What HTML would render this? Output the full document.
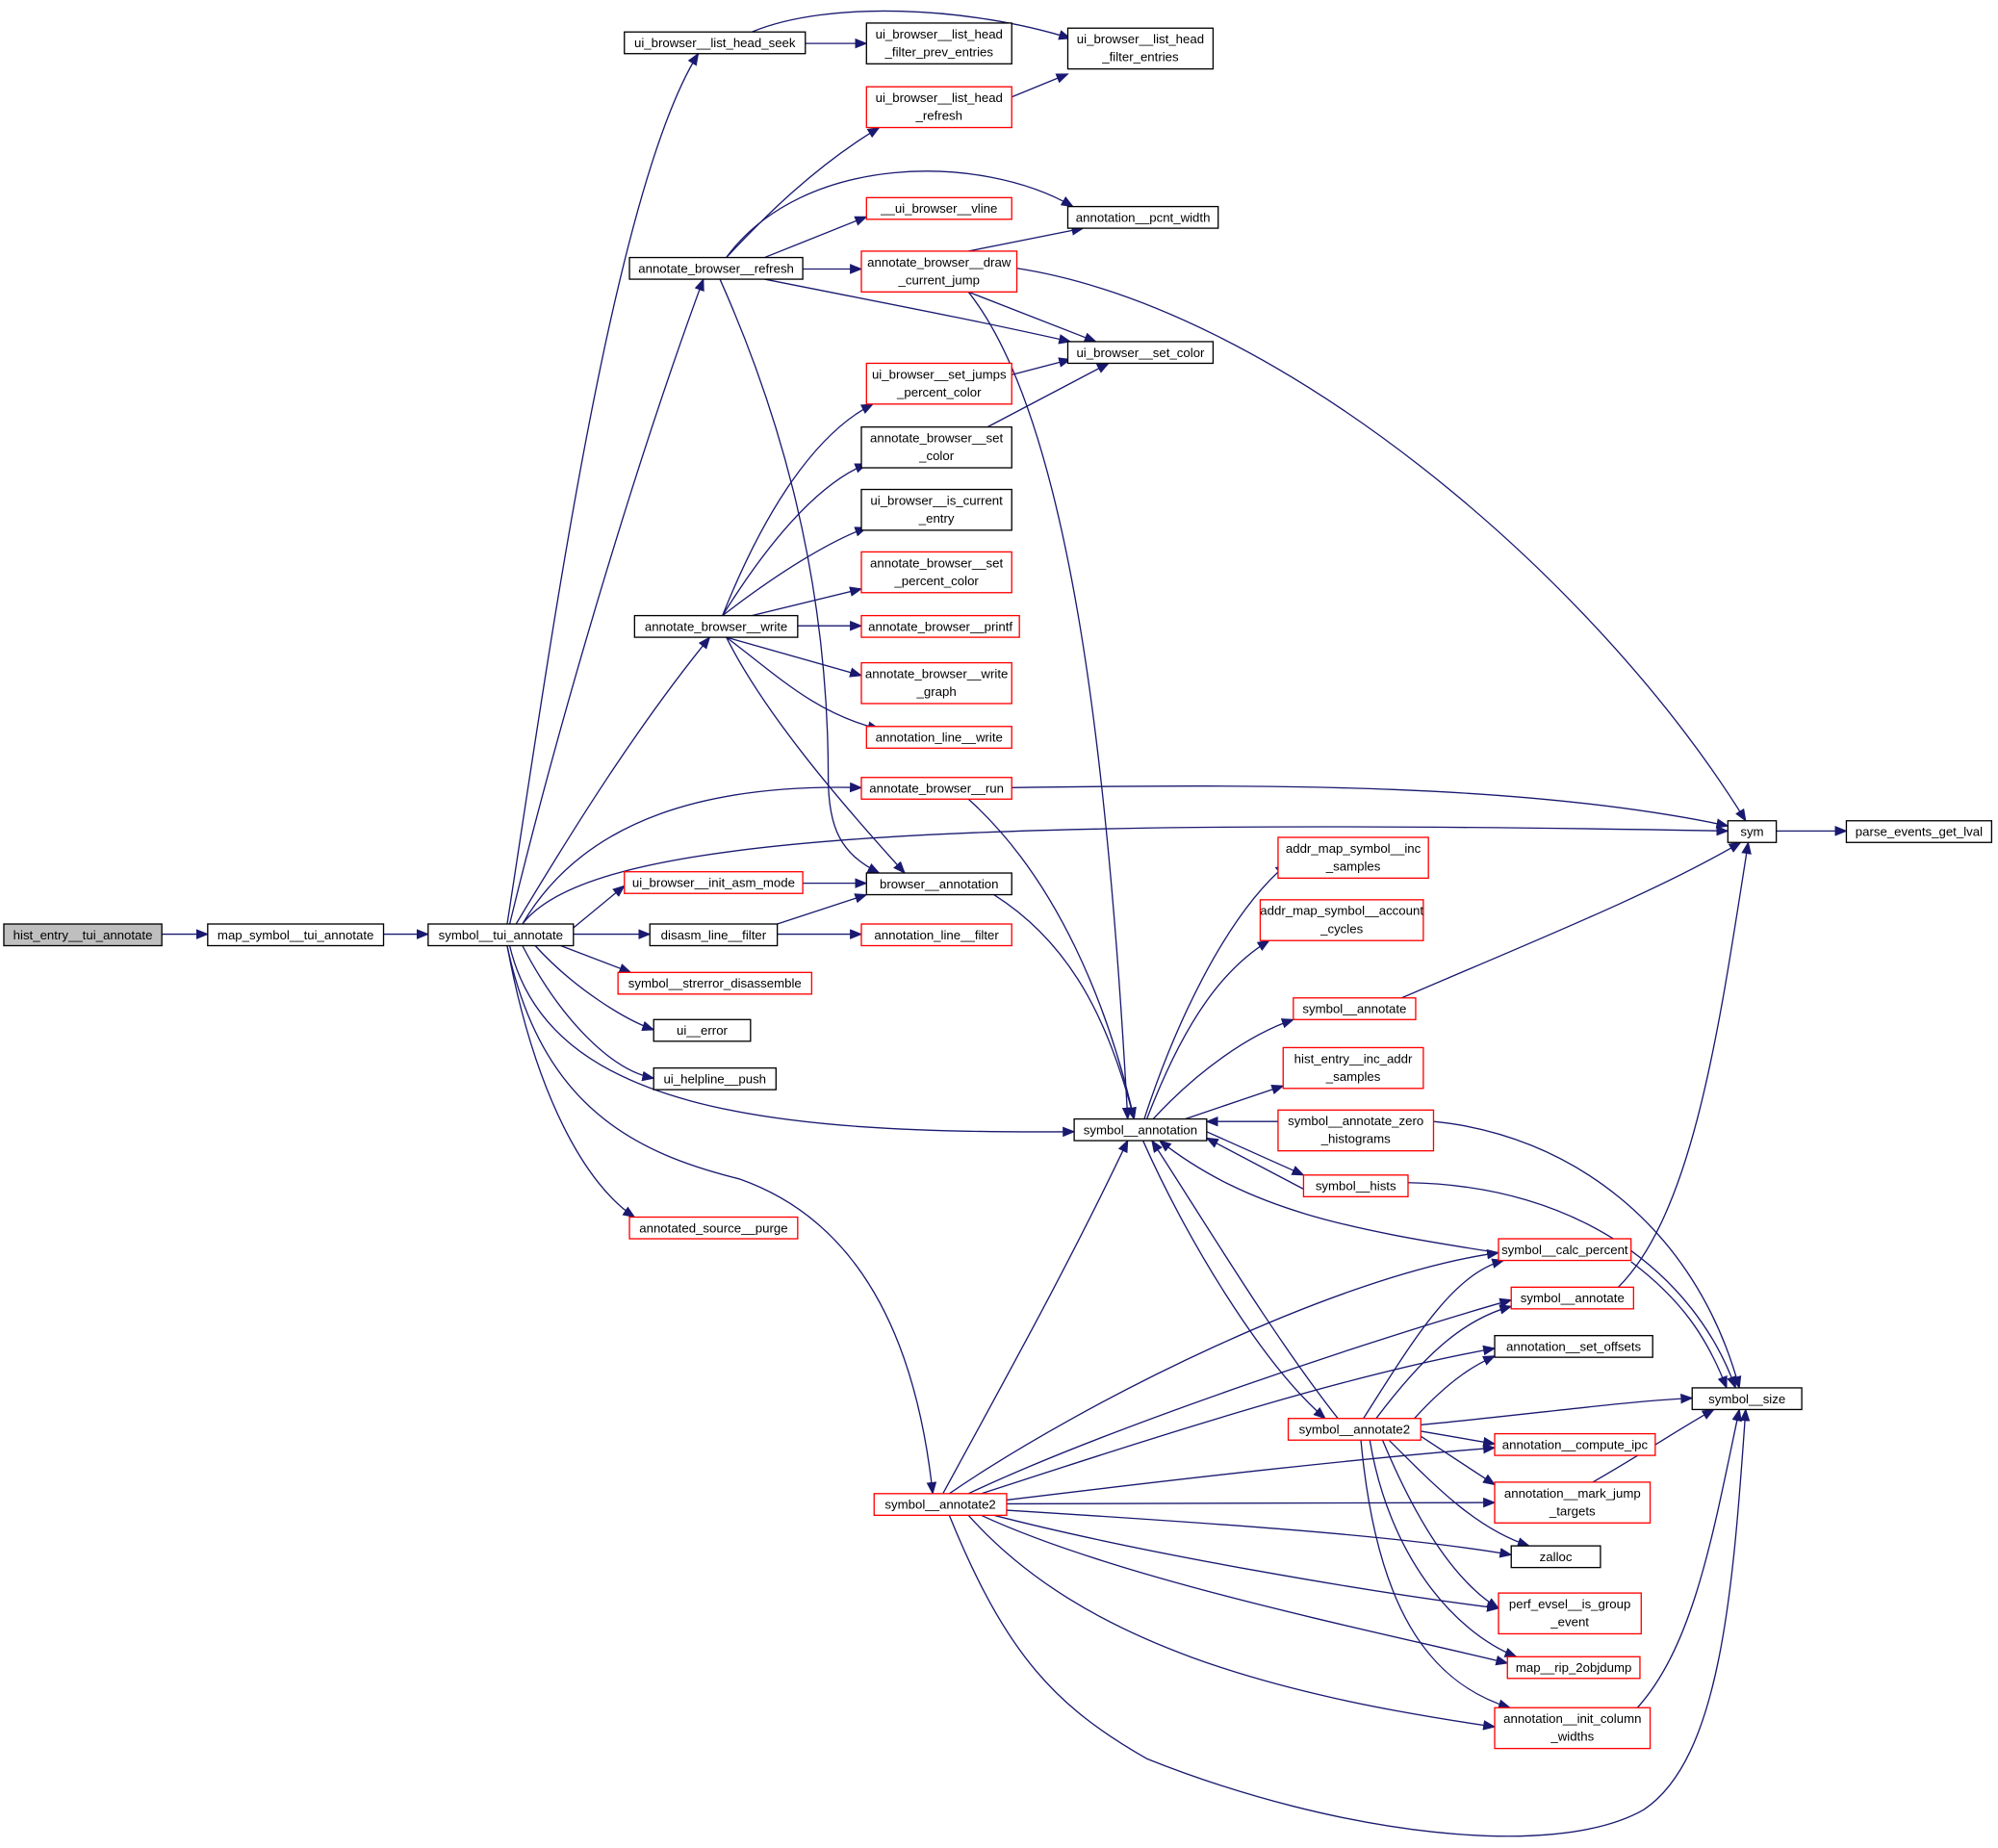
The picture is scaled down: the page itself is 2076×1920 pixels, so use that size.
<!DOCTYPE html>
<html><head><meta charset="utf-8"><style>
html,body{margin:0;padding:0;background:#fff;}
svg{display:block}
text{font-family:"Liberation Sans",sans-serif;font-size:10px;fill:#000;text-anchor:middle}
.n{fill:#fff;stroke:#000;stroke-width:1}
.r{fill:#fff;stroke:#f00;stroke-width:1}
.e{fill:none;stroke:#191970;stroke-width:1}
</style></head><body>
<svg width="2076" height="1920" viewBox="0 0 1568 1450" xmlns="http://www.w3.org/2000/svg">
<defs><marker id="a" markerWidth="10" markerHeight="8" refX="9" refY="4" orient="auto" markerUnits="userSpaceOnUse"><path d="M0,0 L10,4 L0,8 z" fill="#191970"/></marker></defs>
<g marker-end="url(#a)">
<path class="e" d="M127,733 L163,733"/>
<path class="e" d="M301,733 L336,733"/>
<path class="e" d="M398,725 C430,520 480,150 548,42"/>
<path class="e" d="M632,34 L680,34"/>
<path class="e" d="M590,25 C650,0 760,5 840,30"/>
<path class="e" d="M794,76 L838,58"/>
<path class="e" d="M400,725 C440,560 500,360 552,219"/>
<path class="e" d="M570,202 C600,170 640,130 690,100"/>
<path class="e" d="M570,202 C630,120 770,120 842,162"/>
<path class="e" d="M600,202 L680,170"/>
<path class="e" d="M630,211 L676,211"/>
<path class="e" d="M600,219 C680,235 760,250 840,268"/>
<path class="e" d="M565,219 C610,320 650,450 650,610 C650,650 660,670 690,685"/>
<path class="e" d="M760,197 L850,179"/>
<path class="e" d="M760,229 L860,268"/>
<path class="e" d="M795,210 C1000,240 1250,450 1370,644"/>
<path class="e" d="M760,229 C840,330 870,600 885,878"/>
<path class="e" d="M794,294 L840,282"/>
<path class="e" d="M775,335 L870,285"/>
<path class="e" d="M405,725 C450,650 500,570 557,500"/>
<path class="e" d="M567,483 C600,400 640,340 685,317"/>
<path class="e" d="M567,483 C600,430 640,380 680,364"/>
<path class="e" d="M567,483 C610,450 650,425 680,414"/>
<path class="e" d="M590,483 L676,462"/>
<path class="e" d="M626,491 L676,491"/>
<path class="e" d="M570,500 L676,530"/>
<path class="e" d="M570,500 C610,530 640,560 690,572"/>
<path class="e" d="M570,500 C600,560 660,630 710,685"/>
<path class="e" d="M410,725 C460,640 560,615 676,618"/>
<path class="e" d="M794,618 C1000,615 1200,615 1356,648"/>
<path class="e" d="M760,627 C830,690 870,790 890,878"/>
<path class="e" d="M410,725 C460,660 700,640 1356,652"/>
<path class="e" d="M1394,652 L1449,652"/>
<path class="e" d="M450,728 L490,695"/>
<path class="e" d="M630,693 L680,693"/>
<path class="e" d="M450,733 L510,733"/>
<path class="e" d="M610,725 L680,702"/>
<path class="e" d="M610,733 L676,733"/>
<path class="e" d="M440,742 L495,763"/>
<path class="e" d="M420,742 C450,775 490,800 513,808"/>
<path class="e" d="M410,742 C440,800 480,840 513,846"/>
<path class="e" d="M400,742 C430,870 600,890 843,888"/>
<path class="e" d="M398,742 C420,860 460,930 498,955"/>
<path class="e" d="M398,742 C425,870 500,905 580,925 C680,960 720,1060 732,1172"/>
<path class="e" d="M780,702 C840,740 870,800 890,878"/>
<path class="e" d="M898,878 C920,810 960,720 1010,678"/>
<path class="e" d="M900,878 C930,800 960,760 996,738"/>
<path class="e" d="M905,878 C940,840 980,812 1015,800"/>
<path class="e" d="M930,878 L1007,852"/>
<path class="e" d="M1003,880 L947,880"/>
<path class="e" d="M947,888 L1023,922"/>
<path class="e" d="M1023,933 L947,893"/>
<path class="e" d="M1176,983 C1060,965 980,950 910,895"/>
<path class="e" d="M1050,1113 C1000,1050 940,950 904,895"/>
<path class="e" d="M897,895 C930,970 990,1070 1040,1113"/>
<path class="e" d="M1100,783 C1200,740 1300,700 1366,661"/>
<path class="e" d="M1125,880 C1230,890 1330,960 1365,1089"/>
<path class="e" d="M1105,928 C1240,930 1330,1000 1362,1089"/>
<path class="e" d="M1280,990 C1320,1020 1340,1050 1355,1089"/>
<path class="e" d="M1270,1010 C1330,950 1350,800 1372,661"/>
<path class="e" d="M1070,1113 C1110,1050 1140,1000 1180,989"/>
<path class="e" d="M1080,1113 C1120,1060 1150,1035 1186,1025"/>
<path class="e" d="M1110,1113 C1140,1080 1160,1070 1173,1064"/>
<path class="e" d="M1115,1118 C1200,1110 1270,1100 1328,1097"/>
<path class="e" d="M1115,1123 L1173,1133"/>
<path class="e" d="M1115,1127 L1173,1165"/>
<path class="e" d="M1090,1130 C1130,1170 1160,1200 1200,1213"/>
<path class="e" d="M1085,1130 C1110,1190 1140,1240 1176,1262"/>
<path class="e" d="M1075,1130 C1090,1220 1140,1280 1190,1300"/>
<path class="e" d="M1068,1130 C1080,1260 1120,1320 1185,1340"/>
<path class="e" d="M1250,1163 C1290,1140 1320,1120 1345,1106"/>
<path class="e" d="M1285,1340 C1330,1290 1345,1200 1365,1106"/>
<path class="e" d="M740,1172 C790,1080 840,990 885,895"/>
<path class="e" d="M745,1172 C850,1100 1050,1000 1176,983"/>
<path class="e" d="M760,1172 C870,1120 1080,1050 1186,1020"/>
<path class="e" d="M770,1172 C900,1130 1050,1080 1173,1058"/>
<path class="e" d="M790,1177 C930,1160 1060,1145 1173,1136"/>
<path class="e" d="M790,1180 L1173,1179"/>
<path class="e" d="M790,1185 C950,1195 1100,1205 1186,1220"/>
<path class="e" d="M780,1189 C900,1220 1080,1250 1176,1262"/>
<path class="e" d="M770,1189 C880,1240 1080,1280 1183,1305"/>
<path class="e" d="M760,1189 C850,1290 1000,1330 1173,1355"/>
<path class="e" d="M745,1189 C790,1300 830,1340 900,1380 C1050,1440 1220,1460 1290,1420 C1350,1380 1360,1250 1370,1106"/>
</g>
<g>
<rect x="3" y="725" width="124" height="17" fill="#bfbfbf" stroke="#000"/><text x="65" y="737">hist_entry__tui_annotate</text>
<rect class="n" x="163" y="725" width="138" height="17"/><text x="232" y="737">map_symbol__tui_annotate</text>
<rect class="n" x="336" y="725" width="114" height="17"/><text x="393" y="737">symbol__tui_annotate</text>
<rect class="n" x="490" y="25" width="142" height="17"/><text x="561" y="37">ui_browser__list_head_seek</text>
<rect class="n" x="680" y="18" width="114" height="32"/><text x="737" y="30">ui_browser__list_head</text><text x="737" y="44">_filter_prev_entries</text>
<rect class="n" x="838" y="22" width="114" height="32"/><text x="895" y="34">ui_browser__list_head</text><text x="895" y="48">_filter_entries</text>
<rect class="r" x="680" y="68" width="114" height="32"/><text x="737" y="80">ui_browser__list_head</text><text x="737" y="94">_refresh</text>
<rect class="r" x="680" y="155" width="114" height="17"/><text x="737" y="167">__ui_browser__vline</text>
<rect class="n" x="838" y="162" width="118" height="17"/><text x="897" y="174">annotation__pcnt_width</text>
<rect class="n" x="494" y="202" width="136" height="17"/><text x="562" y="214">annotate_browser__refresh</text>
<rect class="r" x="676" y="197" width="122" height="32"/><text x="737" y="209">annotate_browser__draw</text><text x="737" y="223">_current_jump</text>
<rect class="n" x="838" y="268" width="114" height="17"/><text x="895" y="280">ui_browser__set_color</text>
<rect class="r" x="680" y="285" width="114" height="32"/><text x="737" y="297">ui_browser__set_jumps</text><text x="737" y="311">_percent_color</text>
<rect class="n" x="676" y="335" width="118" height="32"/><text x="735" y="347">annotate_browser__set</text><text x="735" y="361">_color</text>
<rect class="n" x="676" y="384" width="118" height="32"/><text x="735" y="396">ui_browser__is_current</text><text x="735" y="410">_entry</text>
<rect class="r" x="676" y="433" width="118" height="32"/><text x="735" y="445">annotate_browser__set</text><text x="735" y="459">_percent_color</text>
<rect class="n" x="498" y="483" width="128" height="17"/><text x="562" y="495">annotate_browser__write</text>
<rect class="r" x="676" y="483" width="124" height="17"/><text x="738" y="495">annotate_browser__printf</text>
<rect class="r" x="676" y="520" width="118" height="32"/><text x="735" y="532">annotate_browser__write</text><text x="735" y="546">_graph</text>
<rect class="r" x="680" y="570" width="114" height="17"/><text x="737" y="582">annotation_line__write</text>
<rect class="r" x="676" y="610" width="118" height="17"/><text x="735" y="622">annotate_browser__run</text>
<rect class="n" x="1356" y="644" width="38" height="17"/><text x="1375" y="656">sym</text>
<rect class="n" x="1449" y="644" width="114" height="17"/><text x="1506" y="656">parse_events_get_lval</text>
<rect class="r" x="490" y="684" width="140" height="17"/><text x="560" y="696">ui_browser__init_asm_mode</text>
<rect class="n" x="680" y="685" width="114" height="17"/><text x="737" y="697">browser__annotation</text>
<rect class="n" x="510" y="725" width="100" height="17"/><text x="560" y="737">disasm_line__filter</text>
<rect class="r" x="676" y="725" width="118" height="17"/><text x="735" y="737">annotation_line__filter</text>
<rect class="r" x="485" y="763" width="152" height="17"/><text x="561" y="775">symbol__strerror_disassemble</text>
<rect class="n" x="513" y="800" width="76" height="17"/><text x="551" y="812">ui__error</text>
<rect class="n" x="513" y="838" width="96" height="17"/><text x="561" y="850">ui_helpline__push</text>
<rect class="r" x="1003" y="657" width="118" height="32"/><text x="1062" y="669">addr_map_symbol__inc</text><text x="1062" y="683">_samples</text>
<rect class="r" x="989" y="706" width="128" height="32"/><text x="1053" y="718">addr_map_symbol__account</text><text x="1053" y="732">_cycles</text>
<rect class="r" x="1015" y="783" width="96" height="17"/><text x="1063" y="795">symbol__annotate</text>
<rect class="r" x="1007" y="822" width="110" height="32"/><text x="1062" y="834">hist_entry__inc_addr</text><text x="1062" y="848">_samples</text>
<rect class="n" x="843" y="878" width="104" height="17"/><text x="895" y="890">symbol__annotation</text>
<rect class="r" x="1003" y="871" width="122" height="32"/><text x="1064" y="883">symbol__annotate_zero</text><text x="1064" y="897">_histograms</text>
<rect class="r" x="1023" y="922" width="82" height="17"/><text x="1064" y="934">symbol__hists</text>
<rect class="r" x="494" y="955" width="132" height="17"/><text x="560" y="967">annotated_source__purge</text>
<rect class="r" x="1176" y="972" width="104" height="17"/><text x="1228" y="984">symbol__calc_percent</text>
<rect class="r" x="1186" y="1010" width="96" height="17"/><text x="1234" y="1022">symbol__annotate</text>
<rect class="n" x="1173" y="1048" width="124" height="17"/><text x="1235" y="1060">annotation__set_offsets</text>
<rect class="n" x="1328" y="1089" width="86" height="17"/><text x="1371" y="1101">symbol__size</text>
<rect class="r" x="1011" y="1113" width="104" height="17"/><text x="1063" y="1125">symbol__annotate2</text>
<rect class="r" x="1173" y="1125" width="126" height="17"/><text x="1236" y="1137">annotation__compute_ipc</text>
<rect class="r" x="1173" y="1163" width="122" height="32"/><text x="1234" y="1175">annotation__mark_jump</text><text x="1234" y="1189">_targets</text>
<rect class="r" x="686" y="1172" width="104" height="17"/><text x="738" y="1184">symbol__annotate2</text>
<rect class="n" x="1186" y="1213" width="70" height="17"/><text x="1221" y="1225">zalloc</text>
<rect class="r" x="1176" y="1250" width="112" height="32"/><text x="1232" y="1262">perf_evsel__is_group</text><text x="1232" y="1276">_event</text>
<rect class="r" x="1183" y="1300" width="104" height="17"/><text x="1235" y="1312">map__rip_2objdump</text>
<rect class="r" x="1173" y="1340" width="122" height="32"/><text x="1234" y="1352">annotation__init_column</text><text x="1234" y="1366">_widths</text>
</g>
</svg>
</body></html>
